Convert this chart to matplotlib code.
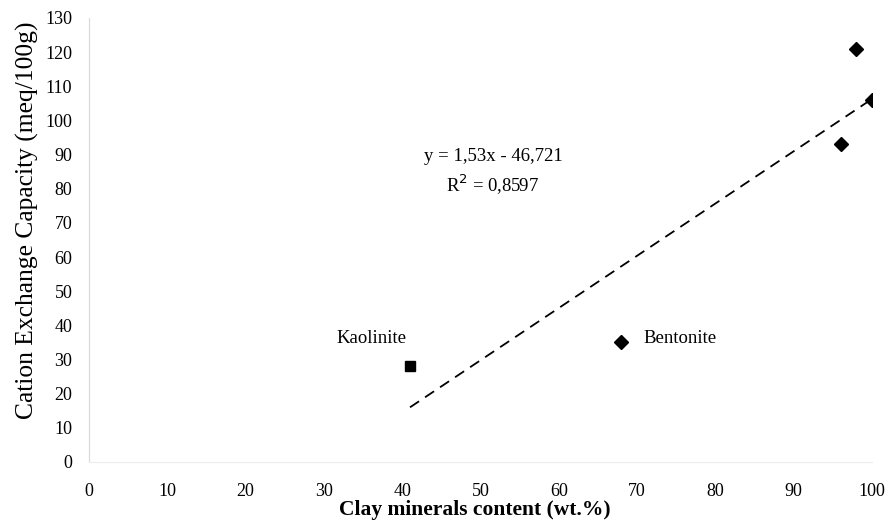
import numpy as np
import matplotlib.pyplot as plt

plt.rcParams['font.family'] = ['Liberation Serif', 'DejaVu Serif']

# clay minerals content (wt.%) vs CEC (meq/100g)
clay = [68, 96, 98, 100]
cec = [35, 93, 121, 106]
kaol_clay = [41]
kaol_cec = [28]

# all samples for the linear trend
all_clay = np.array(kaol_clay + clay)
all_cec = np.array(kaol_cec + cec)
slope, intercept = np.polyfit(all_clay, all_cec, 1)
x_fit = np.array([all_clay.min(), all_clay.max()])

fig = plt.figure(figsize=(8.89, 5.29), dpi=100)
ax = fig.add_axes([0.1001, 0.1267, 0.8808, 0.8393])

ax.plot(x_fit, slope * x_fit + intercept, color='black', lw=1.3,
        linestyle=(0, (6, 4)))
ax.plot(clay, cec, 'D', color='black', markersize=7)
ax.plot(kaol_clay, kaol_cec, 's', color='black', markersize=6.5)

ax.text(36.1, 36.3, 'Kaolinite', fontsize=13.5, ha='center', va='center')
ax.text(70.8, 36.3, 'Bentonite', fontsize=13.5, ha='left', va='center')
ax.text(51.7, 89.3, 'y = 1,53x - 46,721', fontsize=13.5, ha='center', va='center')
ax.text(51.6, 81, 'R$^2$ = 0,8597', fontsize=13.5, ha='center', va='center')

ax.set_xlim(0, 100)
ax.set_ylim(0, 130)
ax.set_xticks(np.arange(0, 101, 10))
ax.set_yticks(np.arange(0, 131, 10))
ax.tick_params(length=0, labelsize=13)
ax.tick_params(axis='x', pad=15)
ax.tick_params(axis='y', pad=12)

for s in ['top', 'right']:
    ax.spines[s].set_visible(False)
ax.spines['left'].set_color('#d8d8d8')
ax.spines['bottom'].set_color('#ececec')

xl = ax.set_xlabel('Clay minerals content (wt.%)', fontsize=15.5, fontweight='bold')
xl.set_va('center')
ax.xaxis.set_label_coords(0.493, -0.108)
yl = ax.set_ylabel('Cation Exchange Capacity (meq/100g)', fontsize=18.4)
yl.set_va('center')
ax.yaxis.set_label_coords(-0.079, 0.545)

fig.savefig('out.png', dpi=100)
